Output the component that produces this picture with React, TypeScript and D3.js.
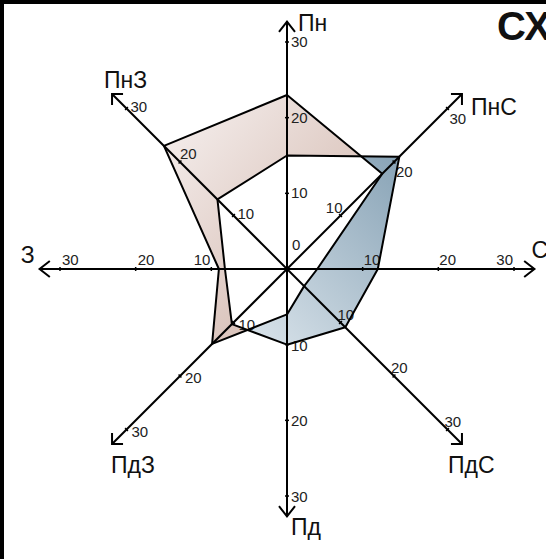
import * as d3 from 'd3'

// directions (clockwise from north) and the two series
const directions = ['Пн', 'ПнС', 'С', 'ПдС', 'Пд', 'ПдЗ', 'З', 'ПнЗ']
const seriesA = [23, 17.8, 4, 3.2, 6, 14, 9, 23]
const seriesB = [15, 21, 12, 10.9, 10, 10.3, 8.2, 13]
const tickValues = [10, 20, 30]
const axisMax = 32.7
const title = 'СХ'

const W = 546
const H = 559
const cx = 287
const cy = 269

// text placement, relative to the tick / arrow tip
const tickLabel = {
  'Пн': { dx: 4, dy: 5 },
  'ПнС': { dx: 2, dy: 15 },
  'С': { dx: 1, dy: -4 },
  'ПдС': { dx: -3, dy: -3 },
  'Пд': { dx: 4, dy: 6 },
  'ПдЗ': { dx: 5, dy: 7 },
  'З': { dx: 2, dy: -4 },
  'ПнЗ': { dx: 4, dy: 3 },
}
// a few labels sit on the other side of their tick
const tickOverride = {
  'ПнС-10': { dx: 2, dy: -3, anchor: 'end' },
  'С-30': { dx: -1, dy: -4, anchor: 'end' },
  'З-10': { dx: -1, dy: -4, anchor: 'end' },
  'ПнЗ-20': { dx: 0, dy: -3, anchor: 'start' },
}
const nameLabel = {
  'Пн': { dx: 11, dy: 9, anchor: 'start' },
  'ПнС': { dx: 9, dy: 21, anchor: 'start' },
  'С': { dx: -3, dy: -11, anchor: 'start' },
  'ПдС': { dx: -14, dy: 29, anchor: 'start' },
  'Пд': { dx: 4, dy: 19, anchor: 'start' },
  'ПдЗ': { dx: -1, dy: 29, anchor: 'start' },
  'З': { dx: -5, dy: -6, anchor: 'end' },
  'ПнЗ': { dx: -8, dy: -6, anchor: 'start' },
}

const font = "'Liberation Sans', Arial, sans-serif"

export default function App() {
  const r = d3.scaleLinear().domain([0, 30]).range([0, 227])
  const angle = d3
    .scalePoint<string>()
    .domain(directions)
    .range([0, (7 * Math.PI) / 4])

  const poly = d3
    .lineRadial<number>()
    .angle((d, i) => angle(directions[i]) as number)
    .radius((d) => r(d))
    .curve(d3.curveLinearClosed)

  const pathA = poly(seriesA) || ''
  const pathB = poly(seriesB) || ''

  const arrow = (a: number) => {
    const [tx, ty] = d3.pointRadial(a, r(axisMax))
    const diag = Math.abs(Math.round(a / (Math.PI / 4)) % 2) === 1
    const len = diag ? 11 : 13
    const th = diag ? Math.PI / 4 : (38 * Math.PI) / 180
    const [ux, uy] = d3.pointRadial(a, 1)
    const arm = (s: number) => {
      const c = Math.cos(s * th)
      const sn = Math.sin(s * th)
      const vx = ux * c - uy * sn
      const vy = ux * sn + uy * c
      return [tx - len * vx, ty - len * vy]
    }
    const p1 = arm(1)
    const p2 = arm(-1)
    return `M${p1[0]},${p1[1]}L${tx},${ty}L${p2[0]},${p2[1]}`
  }

  return (
    <svg
      width={W}
      height={H}
      style={{ position: 'absolute', left: 0, top: 0, background: '#fff' }}
      fontFamily={font}
    >
      <defs>
        <linearGradient id="pinkFill" x1="0" y1="0" x2="1" y2="1">
          <stop offset="0%" stopColor="#f7f2f1" />
          <stop offset="100%" stopColor="#cbab9f" />
        </linearGradient>
        <linearGradient id="blueFill" x1="1" y1="0" x2="0" y2="1">
          <stop offset="0%" stopColor="#88a3b6" />
          <stop offset="100%" stopColor="#e2eaf0" />
        </linearGradient>
        <clipPath id="clipA">
          <path d={pathA} transform={`translate(${cx},${cy})`} />
        </clipPath>
      </defs>

      <rect x={2} y={2} width={700} height={700} fill="none" stroke="#000" strokeWidth={4} />

      <text x={497} y={40} fontSize={40} fontWeight="bold" fill="#111">
        {title}
      </text>

      <g transform={`translate(${cx},${cy})`}>
        <path d={pathA} fill="url(#pinkFill)" />
        <path d={pathB} fill="url(#blueFill)" />
      </g>
      <g clipPath="url(#clipA)">
        <path d={pathB} transform={`translate(${cx},${cy})`} fill="#fff" />
      </g>

      <g transform={`translate(${cx},${cy})`}>
        {directions.map((d) => {
          const a = angle(d) as number
          const [ex, ey] = d3.pointRadial(a, r(axisMax))
          const [nx, ny] = d3.pointRadial(a + Math.PI / 2, 1)
          const nl = nameLabel[d]
          return (
            <g key={d}>
              <line x1={0} y1={0} x2={ex} y2={ey} stroke="#000" strokeWidth={2} />
              <path d={arrow(a)} fill="none" stroke="#000" strokeWidth={2} />
              {tickValues.map((v) => {
                const [px, py] = d3.pointRadial(a, r(v))
                const tl = tickOverride[`${d}-${v}`] || { ...tickLabel[d], anchor: 'start' }
                return (
                  <g key={v}>
                    <line
                      x1={px - nx * 2}
                      y1={py - ny * 2}
                      x2={px + nx * 2}
                      y2={py + ny * 2}
                      stroke="#000"
                      strokeWidth={1.5}
                    />
                    <text
                      x={px + tl.dx}
                      y={py + tl.dy}
                      fontSize={15}
                      textAnchor={tl.anchor}
                      fill="#222"
                    >
                      {v}
                    </text>
                  </g>
                )
              })}
              <text
                x={ex + nl.dx}
                y={ey + nl.dy}
                fontSize={23}
                textAnchor={nl.anchor}
                fill="#111"
              >
                {d}
              </text>
            </g>
          )
        })}
        <text x={5} y={-19} fontSize={15} fill="#222">
          0
        </text>
        <path d={pathA} fill="none" stroke="#000" strokeWidth={2} strokeLinejoin="round" />
        <path d={pathB} fill="none" stroke="#000" strokeWidth={2} strokeLinejoin="round" />
      </g>
    </svg>
  )
}
